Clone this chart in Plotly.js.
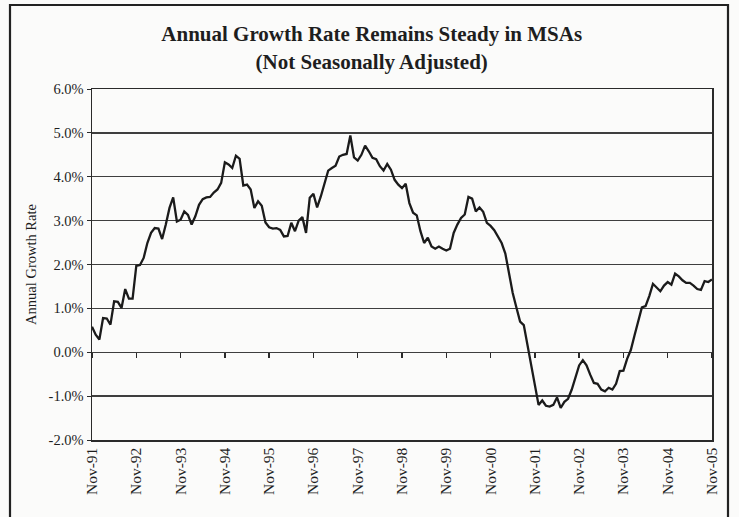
<!DOCTYPE html>
<html>
<head>
<meta charset="utf-8">
<script src="https://cdn.plot.ly/plotly-3.0.1.min.js"></script>
<style>
  html, body { margin: 0; padding: 0; background: #fbfbfa; }
  #chart { width: 739px; height: 517px; }
</style>
</head>
<body>
<div id="chart"></div>
<script>
// Annual growth rate (%), monthly, Nov-91 .. Nov-05
const growth = [
  0.58, 0.40, 0.29, 0.78, 0.77, 0.63, 1.16, 1.15, 1.01, 1.44, 1.22, 1.22,   // Nov-91..Oct-92
  1.97, 1.99, 2.15, 2.49, 2.72, 2.83, 2.82, 2.58, 2.91, 3.29, 3.53, 2.98,   // Nov-92..Oct-93
  3.02, 3.21, 3.13, 2.91, 3.10, 3.36, 3.49, 3.53, 3.54, 3.64, 3.71, 3.86,   // Nov-93..Oct-94
  4.33, 4.28, 4.20, 4.48, 4.41, 3.80, 3.82, 3.71, 3.29, 3.44, 3.34, 2.96,   // Nov-94..Oct-95
  2.85, 2.82, 2.83, 2.79, 2.64, 2.65, 2.95, 2.76, 3.00, 3.08, 2.72, 3.52,   // Nov-95..Oct-96
  3.61, 3.30, 3.55, 3.85, 4.14, 4.20, 4.25, 4.46, 4.50, 4.52, 4.94, 4.44,   // Nov-96..Oct-97
  4.37, 4.50, 4.71, 4.58, 4.43, 4.40, 4.24, 4.14, 4.29, 4.16, 3.93, 3.82,   // Nov-97..Oct-98
  3.74, 3.84, 3.40, 3.18, 3.12, 2.76, 2.49, 2.61, 2.41, 2.36, 2.41, 2.36,   // Nov-98..Oct-99
  2.32, 2.36, 2.72, 2.91, 3.06, 3.14, 3.54, 3.50, 3.21, 3.30, 3.20, 2.95,   // Nov-99..Oct-00
  2.88, 2.78, 2.62, 2.49, 2.25, 1.80, 1.35, 1.02, 0.70, 0.62, 0.15, -0.30,  // Nov-00..Oct-01
  -0.75, -1.20, -1.10, -1.22, -1.24, -1.20, -1.03, -1.27, -1.13, -1.06, -0.85, -0.55, // Nov-01..Oct-02
  -0.30, -0.18, -0.30, -0.51, -0.70, -0.72, -0.85, -0.89, -0.81, -0.85, -0.72, -0.43, // Nov-02..Oct-03
  -0.42, -0.15, 0.05, 0.38, 0.71, 1.02, 1.05, 1.28, 1.56, 1.47, 1.39, 1.52, // Nov-03..Oct-04
  1.60, 1.54, 1.79, 1.73, 1.64, 1.58, 1.58, 1.52, 1.44, 1.42, 1.62, 1.60,   // Nov-04..Oct-05
  1.66                                                                      // Nov-05
];

const monthNames = ['Jan','Feb','Mar','Apr','May','Jun','Jul','Aug','Sep','Oct','Nov','Dec'];
const startYear = 1991;
const startMonthIndex = 10; // November

const tickLabels = ['Nov-91','Nov-92','Nov-93','Nov-94','Nov-95','Nov-96','Nov-97',
                    'Nov-98','Nov-99','Nov-00','Nov-01','Nov-02','Nov-03','Nov-04','Nov-05'];

const yTickVals = [-2, -1, 0, 1, 2, 3, 4, 5, 6];
const yTickText = ['-2.0%', '-1.0%', '0.0%', '1.0%', '2.0%', '3.0%', '4.0%', '5.0%', '6.0%'];

// month category labels
const months = growth.map((_, i) => {
  const m = (startMonthIndex + i) % 12;
  const y = startYear + Math.floor((startMonthIndex + i) / 12);
  return monthNames[m] + '-' + String(y % 100).padStart(2, '0');
});

const serif = 'Liberation Serif, Times New Roman, serif';

const traces = [
  {
    x: months, y: growth, type: 'scatter', mode: 'lines',
    line: { color: '#1b1b1b', width: 2.3 },
    hoverinfo: 'skip', showlegend: false, xaxis: 'x', yaxis: 'y'
  },
  {
    x: months, y: growth, type: 'scatter', mode: 'lines',
    line: { color: 'rgba(0,0,0,0)', width: 0 },
    hoverinfo: 'skip', showlegend: false, xaxis: 'x2', yaxis: 'y'
  }
];

const layout = {
  width: 739, height: 517,
  paper_bgcolor: '#fbfbfa', plot_bgcolor: '#fbfbfa',
  margin: { l: 92, r: 27, t: 89, b: 77 },
  showlegend: false,
  title: {
    text: '<b>Annual Growth Rate Remains Steady in MSAs<br>(Not Seasonally Adjusted)</b>',
    font: { family: serif, size: 21, color: '#1e1e1e' },
    x: 0.503, xref: 'container', xanchor: 'center',
    y: 0.92, yref: 'container', yanchor: 'top'
  },
  xaxis: {
    type: 'category', range: [0, months.length - 1],
    tickmode: 'array', tickvals: tickLabels, ticktext: tickLabels,
    tickangle: -90, ticks: '', showgrid: false, zeroline: false,
    showline: true, mirror: true, linecolor: '#2a2a2a', linewidth: 1.5,
    tickfont: { family: serif, size: 15.5, color: '#1e1e1e' }
  },
  xaxis2: {
    type: 'category', range: [0, months.length - 1], matches: 'x',
    overlaying: 'x', anchor: 'free', position: 0.25,
    tickmode: 'array', tickvals: tickLabels,
    ticks: 'outside', ticklen: 5, tickwidth: 1.3, tickcolor: '#2a2a2a',
    showticklabels: false, showgrid: false, zeroline: false, showline: false
  },
  yaxis: {
    range: [-2, 6], tickmode: 'array', tickvals: yTickVals, ticktext: yTickText,
    ticks: 'outside', ticklen: 4, tickcolor: '#2a2a2a',
    showgrid: true, gridcolor: '#3e3e3e', gridwidth: 1.3,
    zeroline: false, showline: true, mirror: true, linecolor: '#2a2a2a', linewidth: 1.5,
    tickfont: { family: serif, size: 14.5, color: '#1e1e1e' },
    title: { text: 'Annual Growth Rate', font: { family: serif, size: 14.5, color: '#1e1e1e' }, standoff: 8 }
  },
  shapes: [
    {
      type: 'rect', xref: 'paper', yref: 'paper',
      x0: -82 / 620, x1: 1 + 16 / 620,
      y0: -0.3, y1: 1 + 84 / 351,
      line: { color: '#222', width: 2.2 }, fillcolor: 'rgba(0,0,0,0)', layer: 'below'
    }
  ]
};

Plotly.newPlot('chart', traces, layout, { displayModeBar: false, staticPlot: true });
</script>
</body>
</html>
